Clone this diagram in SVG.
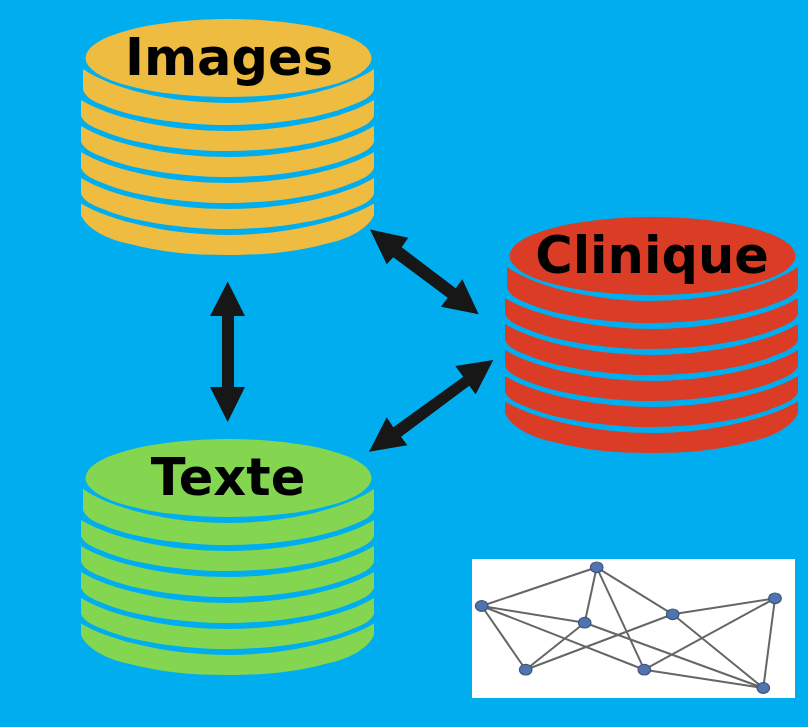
<svg xmlns="http://www.w3.org/2000/svg" width="808" height="727" viewBox="0 0 808 727">
<style>
.lbl{font-family:"DejaVu Sans",sans-serif;font-weight:700;font-size:51px;fill:#000;text-anchor:middle}
.ar{fill:#171717}
.e{stroke:#666;stroke-width:2;fill:none}
.n{fill:#4f74b0;stroke:#3d5578;stroke-width:1.200}
.y{fill:#eebc41}.r{fill:#da3c25}.g{fill:#84d651}
</style>
<defs>
<filter id="soft" x="-5%" y="-5%" width="110%" height="110%"><feGaussianBlur stdDeviation="0.5"/></filter>
<path id="layer" d="M81 0C110 18 170 31 228 31C285 31 345 18 374 0V16C371 23 363 27 352 31C325 43 275 51 228 51C180 51 130 43 103 31C92 27 84 23 81 16Z"/>
<g id="cyl">
<ellipse cx="228.500" cy="58" rx="143" ry="39"/>
<path d="M83 69C112 89 170 103 228 103C285 103 345 89 374 69V90C371 97 363 101 352 105C325 117 275 125 228 125C180 125 130 117 103 105C92 101 86 97 83 90Z"/>
<use href="#layer" y="100"/>
<use href="#layer" y="126"/>
<use href="#layer" y="152"/>
<use href="#layer" y="178"/>
<path d="M81 203.500C110 221 170 235 228 235C285 235 345 221 374 203.500V215C370 225 355 238 325 244C295 252 265 255 228 255C190 255 160 252 130 244C100 238 85 225 81 215Z"/>
</g>
</defs>
<rect width="808" height="727" fill="#00aeef"/>
<g id="images"><use href="#cyl" class="y"/><text class="lbl" x="229" y="75">Images</text></g>
<g id="clinique"><use href="#cyl" class="r" transform="translate(424 198)"/><text class="lbl" x="652" y="273">Clinique</text></g>
<g id="texte"><use href="#cyl" class="g" transform="translate(0 420)"/><text class="lbl" x="228" y="495">Texte</text></g>
<g id="connectors">
<polygon class="ar" points="227.700,281.500 245,316 234,316 234,387 245,387 227.700,422 210,387 222,387 222,316 210,316"/>
<polygon class="ar" points="370,229.500 408.300,237.700 401.700,247.300 455.700,288.300 462.300,279.300 478.700,314.300 441,306.700 447.700,297.700 393.300,257.300 386.700,264.300"/>
<polygon class="ar" points="493.300,360 475.700,394.300 469.300,385.700 401,436.700 407.300,445.300 369,451.700 386.700,417.300 393.300,427.300 463.300,376.700 455.300,366"/>
</g>
<g id="network">
<rect x="472" y="559" width="323" height="139" fill="#fff"/>
<g filter="url(#soft)">
<path class="e" d="M596.700 567.300L481.700 606M596.700 567.300L584.700 622.700M596.700 567.300L644.300 669.700M596.700 567.300L672.700 614.300M481.700 606L584.700 622.700M481.700 606L525.700 669.700M481.700 606L644.300 669.700M584.700 622.700L525.700 669.700M584.700 622.700L763.300 688M672.700 614.300L525.700 669.700M672.700 614.300L775 598.300M672.700 614.300L763.300 688M775 598.300L644.300 669.700M775 598.300L763.300 688M644.300 669.700L763.300 688"/>
<ellipse class="n" cx="596.700" cy="567.300" rx="6.300" ry="5.300"/>
<ellipse class="n" cx="481.700" cy="606" rx="6.300" ry="5.300"/>
<ellipse class="n" cx="584.700" cy="622.700" rx="6.300" ry="5.300"/>
<ellipse class="n" cx="672.700" cy="614.300" rx="6.300" ry="5.300"/>
<ellipse class="n" cx="775" cy="598.300" rx="6.300" ry="5.300"/>
<ellipse class="n" cx="525.700" cy="669.700" rx="6.300" ry="5.300"/>
<ellipse class="n" cx="644.300" cy="669.700" rx="6.300" ry="5.300"/>
<ellipse class="n" cx="763.300" cy="688" rx="6.300" ry="5.300"/>
</g>
</g>
</svg>
